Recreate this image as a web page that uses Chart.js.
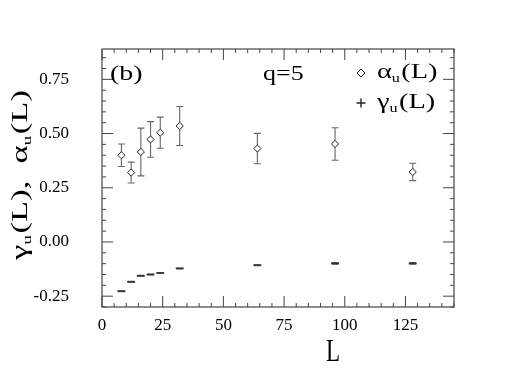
<!DOCTYPE html>
<html><head><meta charset="utf-8">
<script src="https://cdn.jsdelivr.net/npm/chart.js@4"></script>
<style>html,body{margin:0;padding:0;background:#fff;overflow:hidden;}canvas{display:block;}</style>
</head><body>
<canvas id="c" width="507" height="392"></canvas>
<script>
// ---- data ----
const sizesL   = [8, 12, 16, 20, 24, 32, 64, 96, 128];
const alphaU   = [0.400, 0.320, 0.415, 0.473, 0.504, 0.535, 0.431, 0.452, 0.323];
const alphaErr = [0.052, 0.048, 0.110, 0.082, 0.072, 0.090, 0.070, 0.075, 0.040];
const gammaU   = [-0.227, -0.184, -0.156, -0.150, -0.143, -0.122, -0.107, -0.099, -0.099];
const gammaErr = [0.002, 0.002, 0.002, 0.002, 0.002, 0.002, 0.002, 0.004, 0.004];
const xTicks = [0, 25, 50, 75, 100, 125];
const yTicks = [-0.25, 0.00, 0.25, 0.50, 0.75];
const panelLabel = '(b)';
const qLabel = 'q=5';

const SERIF = '"Liberation Serif", "Times New Roman", serif';
const INK = '#222';

function richWidth(ctx, segs) {
  let w = 0;
  for (const s of segs) { ctx.font = s.size + 'px ' + SERIF; w += ctx.measureText(s.t).width + (s.gap || 0); }
  return w;
}
function drawRich(ctx, x, y, segs) {
  let cx = x;
  for (const s of segs) {
    ctx.font = s.size + 'px ' + SERIF;
    ctx.fillText(s.t, cx, y + (s.dy || 0));
    cx += ctx.measureText(s.t).width + (s.gap || 0);
  }
}

const errorBars = {
  id: 'errorBars',
  beforeDatasetsDraw(chart) {
    const ctx = chart.ctx, xs = chart.scales.x, ys = chart.scales.y;
    ctx.save();
    chart.data.datasets.forEach(ds => {
      ctx.strokeStyle = ds.errColor; ctx.lineWidth = 1.1;
      ds.data.forEach((p, i) => {
        const e = ds.errors[i];
        const px = xs.getPixelForValue(p.x);
        const y1 = ys.getPixelForValue(p.y + e), y2 = ys.getPixelForValue(p.y - e);
        ctx.beginPath();
        ctx.moveTo(px, y1); ctx.lineTo(px, y2);
        ctx.moveTo(px - 3.5, y1); ctx.lineTo(px + 3.5, y1);
        ctx.moveTo(px - 3.5, y2); ctx.lineTo(px + 3.5, y2);
        ctx.stroke();
      });
    });
    ctx.restore();
  }
};

const frame = {
  id: 'frame',
  afterDraw(chart) {
    const ctx = chart.ctx, a = chart.chartArea, xs = chart.scales.x, ys = chart.scales.y;
    ctx.save();
    ctx.strokeStyle = '#444'; ctx.lineWidth = 1.2;
    ctx.strokeRect(a.left, a.top, a.right - a.left, a.bottom - a.top);
    ctx.lineWidth = 1;
    ctx.beginPath();
    for (let v = 0; v <= 145; v += 5) {
      const px = xs.getPixelForValue(v);
      const len = xTicks.includes(v) ? 11 : 4;
      ctx.moveTo(px, a.bottom); ctx.lineTo(px, a.bottom - len);
      ctx.moveTo(px, a.top); ctx.lineTo(px, a.top + len);
    }
    for (let k = -6; k <= 17; k++) {
      const v = k * 0.05;
      const py = ys.getPixelForValue(v);
      if (py < a.top || py > a.bottom) continue;
      const major = yTicks.some(t => Math.abs(t - v) < 1e-6);
      const len = major ? 11 : 4;
      ctx.moveTo(a.left, py); ctx.lineTo(a.left + len, py);
      ctx.moveTo(a.right, py); ctx.lineTo(a.right - len, py);
    }
    ctx.stroke();

    ctx.fillStyle = '#000';
    ctx.textBaseline = 'alphabetic';
    // panel label and q
    ctx.save(); ctx.translate(110, 80); ctx.scale(1.4, 1);
    drawRich(ctx, 0, 0, [{t: panelLabel, size: 20}]); ctx.restore();
    ctx.save(); ctx.translate(263, 80); ctx.scale(1.3, 1);
    drawRich(ctx, 0, 0, [{t: qLabel, size: 20}]); ctx.restore();

    // legend
    ctx.strokeStyle = INK; ctx.lineWidth = 1;
    ctx.beginPath();
    ctx.moveTo(361, 69); ctx.lineTo(365, 73); ctx.lineTo(361, 77); ctx.lineTo(357, 73); ctx.closePath();
    ctx.stroke();
    ctx.lineWidth = 1.4;
    ctx.beginPath();
    ctx.moveTo(356.5, 103); ctx.lineTo(365.5, 103);
    ctx.moveTo(361, 98.5); ctx.lineTo(361, 107.5);
    ctx.stroke();
    ctx.save(); ctx.translate(377, 78); ctx.scale(1.35, 1);
    drawRich(ctx, 0, 0, [{t: 'α', size: 21}, {t: 'u', size: 12, dy: 4, gap: 1}, {t: '(L)', size: 21}]);
    ctx.restore();
    ctx.save(); ctx.translate(377, 108); ctx.scale(1.35, 1);
    drawRich(ctx, 0, 0, [{t: 'γ', size: 21}, {t: 'u', size: 12, dy: 4, gap: 1}, {t: '(L)', size: 21}]);
    ctx.restore();

    // x title
    ctx.save(); ctx.translate(333, 361); ctx.scale(1, 1.35);
    ctx.textAlign = 'center';
    ctx.font = '23px ' + SERIF; ctx.fillText('L', 0, 0);
    ctx.restore();

    // y title
    const segs = [{t: 'γ', size: 23}, {t: 'u', size: 13, dy: 4, gap: 1}, {t: '(L),', size: 23}, {t: '  ', size: 23},
                  {t: 'α', size: 23}, {t: 'u', size: 13, dy: 4, gap: 1}, {t: '(L)', size: 23}];
    ctx.save(); ctx.translate(27, 175); ctx.rotate(-Math.PI / 2); ctx.scale(1.5, 1);
    const w = richWidth(ctx, segs);
    drawRich(ctx, -w / 2, 0, segs);
    ctx.restore();
    ctx.restore();
  }
};

new Chart(document.getElementById('c'), {
  type: 'scatter',
  data: {
    datasets: [
      {
        label: 'αu(L)',
        data: sizesL.map((x, i) => ({x, y: alphaU[i]})),
        errors: alphaErr, errColor: '#666',
        pointStyle: 'rectRot', pointRadius: 3.6, pointHoverRadius: 3.6,
        pointBackgroundColor: '#fff', pointBorderColor: INK, pointBorderWidth: 1
      },
      {
        label: 'γu(L)',
        data: sizesL.map((x, i) => ({x, y: gammaU[i]})),
        errors: gammaErr, errColor: '#555',
        pointStyle: 'line', pointRadius: 4, pointHoverRadius: 4,
        pointBorderColor: '#333', pointBorderWidth: 1.5
      }
    ]
  },
  options: {
    responsive: false, animation: false, devicePixelRatio: 1,
    layout: {padding: {left: 0, right: 53, top: 49, bottom: 0}},
    plugins: {legend: {display: false}, tooltip: {enabled: false}},
    scales: {
      x: {
        type: 'linear', min: 0, max: 145,
        afterFit: s => { s.height = 85; },
        afterBuildTicks: s => { s.ticks = xTicks.map(v => ({value: v})); },
        grid: {display: false, drawTicks: false}, border: {display: false},
        ticks: {padding: 8, color: '#000', font: {family: SERIF, size: 17}, callback: v => String(v)}
      },
      y: {
        type: 'linear', min: -0.30, max: 0.89,
        afterFit: s => { s.width = 102; },
        afterBuildTicks: s => { s.ticks = yTicks.map(v => ({value: v})); },
        grid: {display: false, drawTicks: false}, border: {display: false},
        ticks: {padding: 33, color: '#000', font: {family: SERIF, size: 17}, callback: v => Number(v).toFixed(2)}
      }
    }
  },
  plugins: [errorBars, frame]
});
</script>
</body></html>
